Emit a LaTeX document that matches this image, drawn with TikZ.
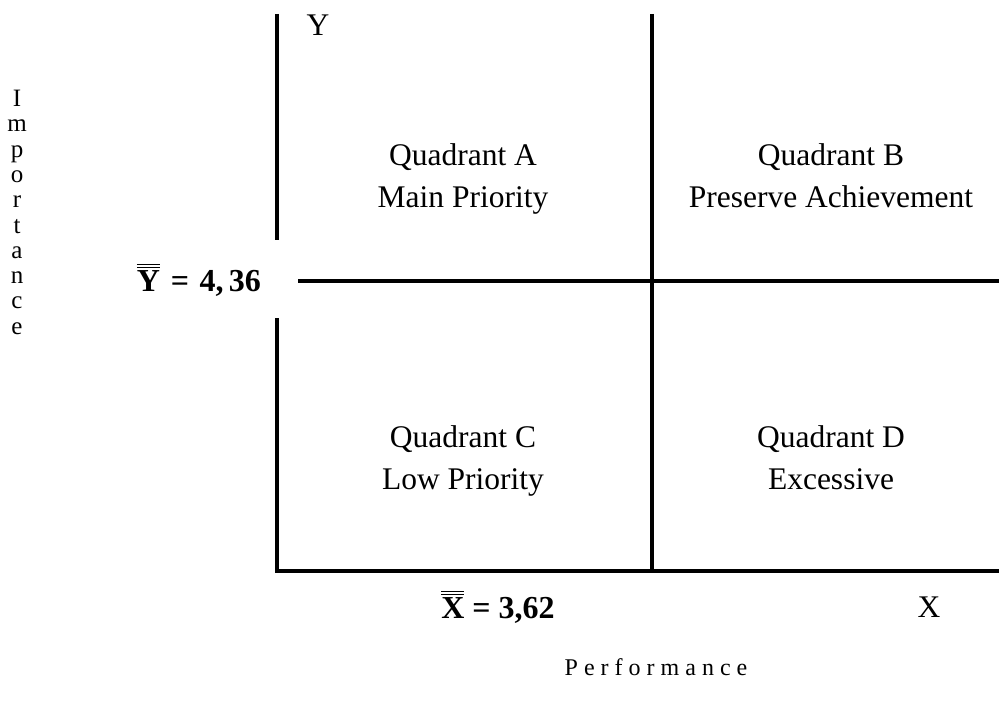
\documentclass[tikz,border=0pt]{standalone}
\usepackage{fontspec}
\setmainfont{Liberation Serif}
\newcommand\dblbar[1]{\leavevmode\vbox{\hrule height 1.4pt\kern1.7pt\hrule height 1.4pt\kern2pt\hbox{#1}}}
\begin{document}
\begin{tikzpicture}[x=1pt,y=-1pt,
  axisline/.style={line width=3.6pt},
  quad/.style={align=center,font=\fontsize{31.5}{42}\selectfont,inner sep=0pt,anchor=north},
  lbl/.style={font=\fontsize{31.5}{36}\selectfont,inner sep=0pt},
  meanlbl/.style={font=\fontsize{32}{36}\selectfont\bfseries,inner sep=0pt}]
\useasboundingbox (0,0) rectangle (999,706);
% coordinates
\coordinate (ytop) at (277,14);
\coordinate (ybrk1) at (277,240);
\coordinate (ybrk2) at (277,318);
\coordinate (origin) at (277,571);
\coordinate (xend) at (999,571);
\coordinate (mvtop) at (652,14);
\coordinate (mvbot) at (652,571);
\coordinate (mhl) at (298,281);
\coordinate (mhr) at (999,281);
% lines
\draw[axisline] (ytop) -- (ybrk1);
\draw[axisline] (ybrk2) -- (origin) -- (xend);
\draw[axisline] (mvtop) -- (mvbot);
\draw[axisline] (mhl) -- (mhr);
% quadrant labels
\node[quad] (qa) at (463,143) {Quadrant A\\Main Priority};
\node[quad] (qb) at (831,143) {Quadrant B\\Preserve Achievement};
\node[quad] (qc) at (463,425) {Quadrant C\\Low Priority};
\node[quad] (qd) at (831,425) {Quadrant D\\Excessive};
% axis letters
\node[lbl] (ylab) at (318,25) {Y};
\node[lbl] (xlab) at (929,607) {X};
% means
\node[meanlbl,anchor=base] (ymean) at (199,291) {\dblbar{Y}\,\,=\,\,4,\,36};
\node[meanlbl,anchor=base] (xmean) at (498,618) {\dblbar{X} = 3,62};
% axis titles
\node[align=center,inner sep=0pt,font=\fontsize{25}{25.3}\selectfont,anchor=north] (imp) at (17,90)
  {I\\m\\p\\o\\r\\t\\a\\n\\c\\e};
\node[lbl,font=\fontsize{24}{28}\selectfont] (perf) at (656,667) {P e r f o r m a n c e};
\end{tikzpicture}
\end{document}
